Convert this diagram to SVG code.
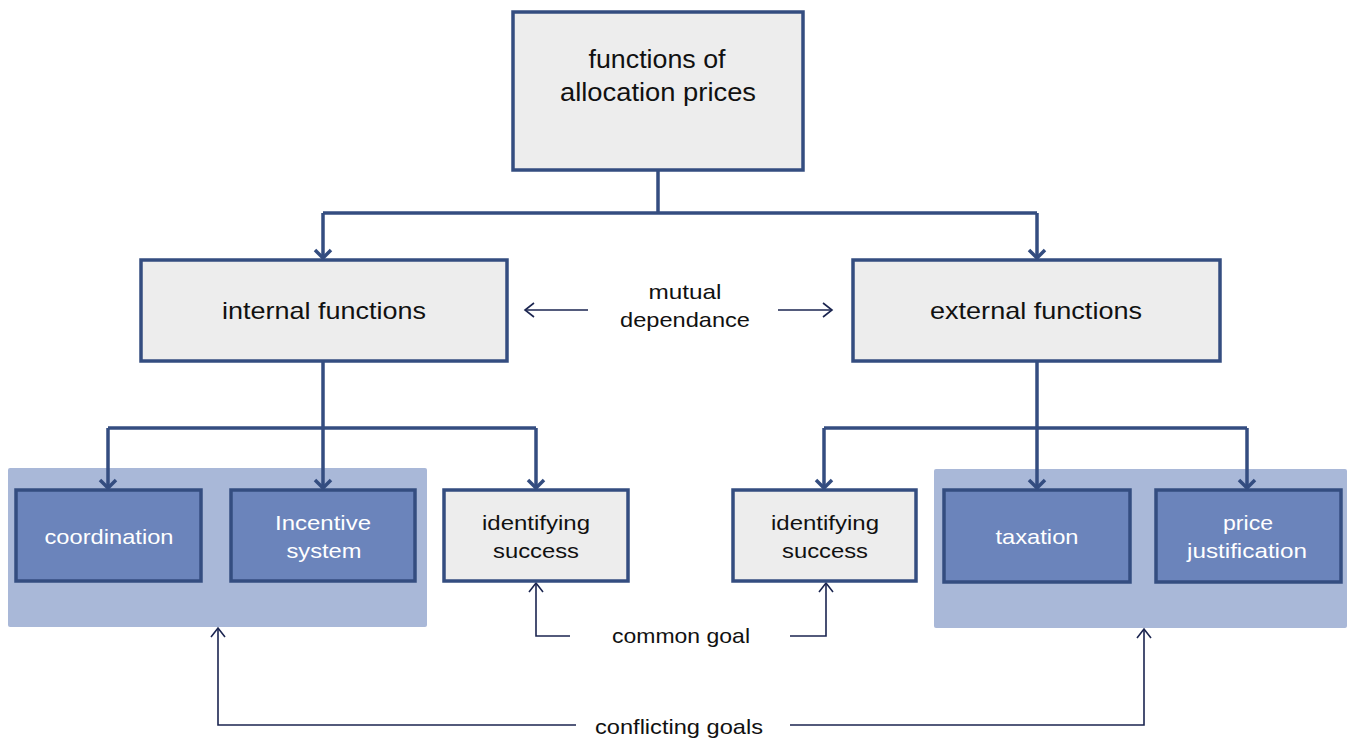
<svg xmlns="http://www.w3.org/2000/svg" width="1347" height="740" viewBox="0 0 1347 740">
<defs>
<style>
.box{fill:#ededed;stroke:#344d80;stroke-width:3.5}
.dbox{fill:#6b84bb;stroke:#344d80;stroke-width:3.5}
.panel{fill:#a9b8d8}
.t{font-family:"Liberation Sans",Arial,sans-serif;fill:#111;text-anchor:middle}
.w{font-family:"Liberation Sans",Arial,sans-serif;fill:#fff;text-anchor:middle;font-size:21px}
.thick{fill:none;stroke:#344d80;stroke-width:3.5}
.thin{fill:none;stroke:#1b2550;stroke-width:1.6}
</style>
<marker id="ah" markerUnits="userSpaceOnUse" markerWidth="20" markerHeight="20" refX="10" refY="10" orient="auto" viewBox="0 0 20 20">
<polyline points="2,2 10,10 2,18" fill="none" stroke="#344d80" stroke-width="3.5"/>
</marker>
<marker id="ah2" markerUnits="userSpaceOnUse" markerWidth="20" markerHeight="20" refX="10" refY="10" orient="auto" viewBox="0 0 20 20">
<polyline points="1,3 10,10 1,17" fill="none" stroke="#1b2550" stroke-width="1.6"/>
</marker>
</defs>
<rect width="1347" height="740" fill="#fff"/>
<g id="panels">
<rect class="panel" x="8" y="468" width="419" height="159" rx="2"/>
<rect class="panel" x="934" y="469" width="413" height="159" rx="2"/>
</g>
<g id="connectors">
<path class="thick" d="M658,170 V213"/>
<path class="thick" d="M323,213 H1037"/>
<path class="thick" d="M323,213 V258" marker-end="url(#ah)"/>
<path class="thick" d="M1037,213 V258" marker-end="url(#ah)"/>
<path class="thick" d="M323,361 V488" marker-end="url(#ah)"/>
<path class="thick" d="M108,428 H536"/>
<path class="thick" d="M108,428 V488" marker-end="url(#ah)"/>
<path class="thick" d="M536,428 V488" marker-end="url(#ah)"/>
<path class="thick" d="M1037,361 V488" marker-end="url(#ah)"/>
<path class="thick" d="M824,428 H1247"/>
<path class="thick" d="M824,428 V488" marker-end="url(#ah)"/>
<path class="thick" d="M1247,428 V488" marker-end="url(#ah)"/>
<path class="thin" d="M588,310 H525" marker-end="url(#ah2)"/>
<path class="thin" d="M778,310 H832" marker-end="url(#ah2)"/>
<path class="thin" d="M570,636 H536 V583" marker-end="url(#ah2)"/>
<path class="thin" d="M790,636 H826 V583" marker-end="url(#ah2)"/>
<path class="thin" d="M576,725 H218 V628" marker-end="url(#ah2)"/>
<path class="thin" d="M790,725 H1144 V629" marker-end="url(#ah2)"/>
</g>
<g id="root">
<rect class="box" x="513" y="12" width="290" height="158"/>
<text class="t" font-size="25" x="657" y="68" textLength="137" lengthAdjust="spacingAndGlyphs">functions of</text>
<text class="t" font-size="25" x="658" y="101" textLength="196" lengthAdjust="spacingAndGlyphs">allocation prices</text>
</g>
<g id="internal">
<rect class="box" x="141" y="260" width="366" height="101"/>
<text class="t" font-size="24" x="324" y="319" textLength="204" lengthAdjust="spacingAndGlyphs">internal functions</text>
</g>
<g id="external">
<rect class="box" x="853" y="260" width="367" height="101"/>
<text class="t" font-size="24" x="1036" y="319" textLength="212" lengthAdjust="spacingAndGlyphs">external functions</text>
</g>
<g id="coordination">
<rect class="dbox" x="16" y="490" width="185" height="91"/>
<text class="w" x="109" y="544" textLength="129" lengthAdjust="spacingAndGlyphs">coordination</text>
</g>
<g id="incentive">
<rect class="dbox" x="231" y="490" width="184" height="91"/>
<text class="w" x="323" y="530" textLength="96" lengthAdjust="spacingAndGlyphs">Incentive</text>
<text class="w" x="324" y="558" textLength="75" lengthAdjust="spacingAndGlyphs">system</text>
</g>
<g id="success-left">
<rect class="box" x="444" y="490" width="184" height="91"/>
<text class="t" font-size="21" x="536" y="530" textLength="108" lengthAdjust="spacingAndGlyphs">identifying</text>
<text class="t" font-size="21" x="536" y="558" textLength="86" lengthAdjust="spacingAndGlyphs">success</text>
</g>
<g id="success-right">
<rect class="box" x="733" y="490" width="183" height="91"/>
<text class="t" font-size="21" x="825" y="530" textLength="108" lengthAdjust="spacingAndGlyphs">identifying</text>
<text class="t" font-size="21" x="825" y="558" textLength="86" lengthAdjust="spacingAndGlyphs">success</text>
</g>
<g id="taxation">
<rect class="dbox" x="944" y="490" width="186" height="92"/>
<text class="w" x="1037" y="544" textLength="83" lengthAdjust="spacingAndGlyphs">taxation</text>
</g>
<g id="price-justification">
<rect class="dbox" x="1156" y="490" width="185" height="92"/>
<text class="w" x="1248" y="530" textLength="50" lengthAdjust="spacingAndGlyphs">price</text>
<text class="w" x="1247" y="558" textLength="120" lengthAdjust="spacingAndGlyphs">justification</text>
</g>
<g id="labels">
<text class="t" font-size="21" x="685" y="299" textLength="73" lengthAdjust="spacingAndGlyphs">mutual</text>
<text class="t" font-size="21" x="685" y="327" textLength="130" lengthAdjust="spacingAndGlyphs">dependance</text>
<text class="t" font-size="21" x="681" y="643" textLength="138" lengthAdjust="spacingAndGlyphs">common goal</text>
<text class="t" font-size="21" x="679" y="734" textLength="168" lengthAdjust="spacingAndGlyphs">conflicting goals</text>
</g>
</svg>
